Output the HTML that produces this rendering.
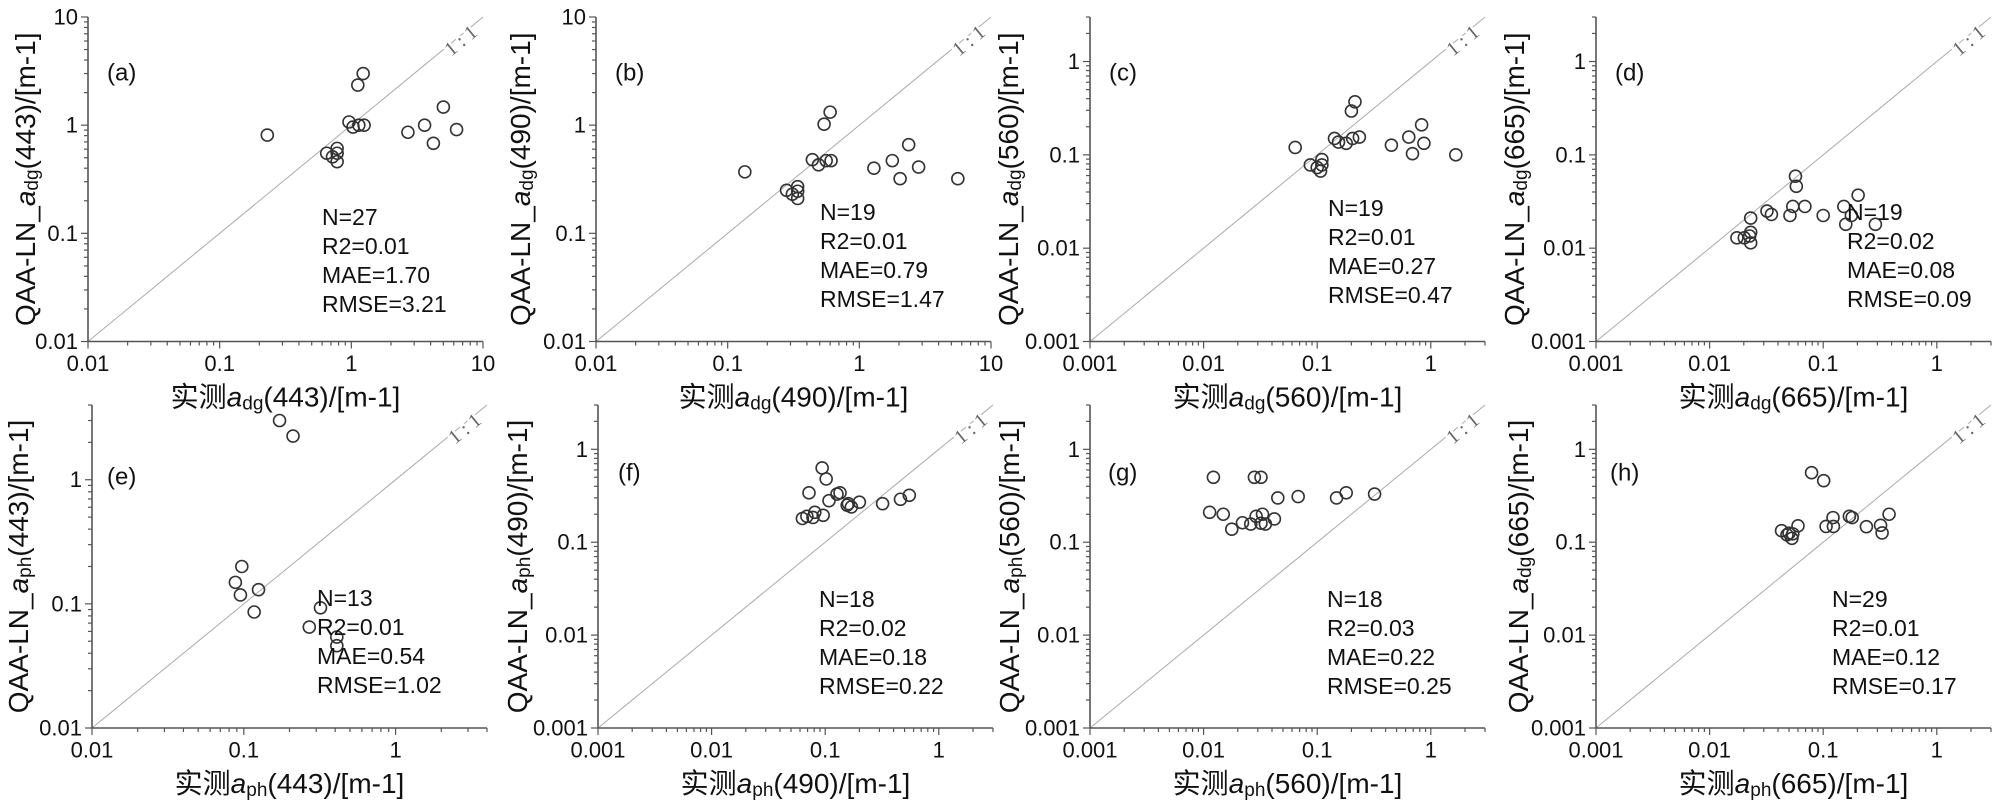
<!DOCTYPE html>
<html><head><meta charset="utf-8"><style>
html,body{margin:0;padding:0;background:#fff;}
svg{display:block;font-family:"Liberation Sans","Noto Sans CJK SC",sans-serif;}
</style></head><body>
<svg id="fig" width="2000" height="806" viewBox="0 0 2000 806" xmlns="http://www.w3.org/2000/svg"></svg>
<script>
// Panel data (measured x, predicted y)
const aX=[0.23,0.65,0.78,0.78,0.72,0.78,0.96,1.03,1.12,1.23,1.14,1.25,2.69,3.6,4.2,5.0,6.3];
const aY=[0.81,0.55,0.61,0.46,0.51,0.55,1.07,0.96,2.35,3.0,1.0,1.0,0.86,1.0,0.68,1.47,0.91];
const bX=[0.135,0.28,0.31,0.34,0.34,0.34,0.44,0.49,0.54,0.6,0.56,0.61,1.29,1.78,2.04,2.37,2.82,5.6];
const bY=[0.37,0.25,0.23,0.27,0.21,0.245,0.48,0.43,1.02,1.32,0.47,0.47,0.40,0.47,0.32,0.66,0.41,0.32];
const cX=[0.064,0.087,0.1,0.11,0.107,0.11,0.142,0.154,0.18,0.205,0.235,0.2,0.215,0.45,0.64,0.83,0.87,0.69,1.66];
const cY=[0.12,0.078,0.073,0.089,0.067,0.078,0.15,0.137,0.133,0.15,0.155,0.295,0.37,0.127,0.155,0.21,0.133,0.103,0.1];
const dX=[0.0174,0.0202,0.023,0.023,0.0225,0.023,0.032,0.035,0.051,0.054,0.057,0.058,0.069,0.1,0.152,0.158,0.177,0.203,0.288];
const dY=[0.0129,0.0129,0.0148,0.0114,0.0135,0.021,0.025,0.023,0.0224,0.028,0.059,0.046,0.028,0.0224,0.028,0.018,0.0224,0.037,0.018];
const eX=[0.172,0.211,0.097,0.088,0.095,0.125,0.117,0.32,0.27,0.41,0.41];
const eY=[3.0,2.25,0.2,0.149,0.118,0.13,0.086,0.093,0.065,0.054,0.046];
const fX=[0.063,0.069,0.078,0.081,0.096,0.072,0.094,0.102,0.108,0.127,0.135,0.156,0.16,0.17,0.2,0.32,0.46,0.55];
const fY=[0.18,0.19,0.185,0.21,0.195,0.34,0.63,0.48,0.28,0.33,0.34,0.25,0.26,0.24,0.27,0.26,0.29,0.32];
const gX=[0.0122,0.028,0.032,0.045,0.068,0.148,0.18,0.32,0.0113,0.0149,0.0177,0.022,0.026,0.029,0.033,0.032,0.035,0.042];
const gY=[0.5,0.5,0.5,0.30,0.31,0.30,0.34,0.33,0.21,0.2,0.138,0.162,0.157,0.19,0.2,0.16,0.157,0.178];
const hX=[0.079,0.101,0.043,0.048,0.053,0.054,0.06,0.05,0.106,0.122,0.123,0.17,0.18,0.24,0.32,0.33,0.38];
const hY=[0.56,0.46,0.133,0.12,0.11,0.123,0.15,0.125,0.148,0.184,0.148,0.19,0.184,0.147,0.152,0.126,0.2];

const panelIds=['a','b','c','d','e','f','g','h'];
const statN=['N=27','N=19','N=19','N=19','N=13','N=18','N=18','N=29'];
const statR2=['R2=0.01','R2=0.01','R2=0.01','R2=0.02','R2=0.01','R2=0.02','R2=0.03','R2=0.01'];
const statMAE=['MAE=1.70','MAE=0.79','MAE=0.27','MAE=0.08','MAE=0.54','MAE=0.18','MAE=0.22','MAE=0.12'];
const statRMSE=['RMSE=3.21','RMSE=1.47','RMSE=0.47','RMSE=0.09','RMSE=1.02','RMSE=0.22','RMSE=0.25','RMSE=0.17'];
const wavelengths=['443','490','560','665','443','490','560','665'];
const ySubs=['dg','dg','dg','dg','ph','ph','ph','dg'];
const xSubs=['dg','dg','dg','dg','ph','ph','ph','ph'];
const tickA=['0.01','0.1','1','10'];
const tickC=['0.001','0.01','0.1','1'];
const tickE=['0.01','0.1','1'];

const NS='http://www.w3.org/2000/svg';
const svg=document.getElementById('fig');
function mk(tag,attrs,parent){const e=document.createElementNS(NS,tag);for(const k in attrs)e.setAttribute(k,attrs[k]);(parent||svg).appendChild(e);return e;}

const layout=[
 {L:88,T:17,B:341.5,W:395,min:0.01,max:10,ticks:tickA,xs:aX,ys:aY,sx:234,sy:217,ytx:-63,lx:19,ly:56},
 {L:596,T:17,B:341.5,W:395,min:0.01,max:10,ticks:tickA,xs:bX,ys:bY,sx:224,sy:212,ytx:-76,lx:19,ly:56},
 {L:1090,T:17,B:341.5,W:395,min:0.001,max:3,ticks:tickC,xs:cX,ys:cY,sx:238,sy:208,ytx:-82,lx:19,ly:56},
 {L:1596,T:17,B:341.5,W:395,min:0.001,max:3,ticks:tickC,xs:dX,ys:dY,sx:251,sy:212,ytx:-82,lx:19,ly:56},
 {L:92,T:405,B:728,W:395,min:0.01,max:4,ticks:tickE,xs:eX,ys:eY,sx:225,sy:598,ytx:-74,lx:15,ly:72},
 {L:598,T:405,B:728,W:395,min:0.001,max:3,ticks:tickC,xs:fX,ys:fY,sx:221,sy:599,ytx:-81,lx:20,ly:68},
 {L:1090,T:405,B:728,W:395,min:0.001,max:3,ticks:tickC,xs:gX,ys:gY,sx:237,sy:599,ytx:-81,lx:18,ly:68},
 {L:1596,T:405,B:728,W:395,min:0.001,max:3,ticks:tickC,xs:hX,ys:hY,sx:236,sy:599,ytx:-78,lx:14,ly:68}
];

layout.forEach((p,i)=>{
 const id=panelIds[i];
 const g=mk('g',{});
 
 
 const lmin=Math.log10(p.min),lmax=Math.log10(p.max);
 const X=v=>p.L+(Math.log10(v)-lmin)/(lmax-lmin)*p.W;
 const Y=v=>p.B-(Math.log10(v)-lmin)/(lmax-lmin)*(p.B-p.T);
 const R=p.L+p.W;
 // 1:1 line
 const ln=mk('line',{x1:X(p.min),y1:Y(p.min),x2:X(p.max),y2:Y(p.max),stroke:'#aaa','stroke-width':1},g);
 
 
 const ang=Math.atan2(Y(p.max)-Y(p.min),X(p.max)-X(p.min))*180/Math.PI;
 const lbx=R-22,lby=p.T+24;
 const lt=mk('text',{x:lbx,y:lby,'font-family':'Liberation Serif,serif','font-size':20,fill:'#666','text-anchor':'middle','dominant-baseline':'central',transform:`rotate(${ang} ${lbx} ${lby})`,stroke:'#fff','stroke-width':5,'paint-order':'stroke'},g);
 lt.textContent='1 : 1';
 
 
 // axes
 const ya=mk('line',{x1:p.L,y1:p.T,x2:p.L,y2:p.B,stroke:'#555','stroke-width':1.6},g);
 
 
 const xa=mk('line',{x1:p.L,y1:p.B,x2:R,y2:p.B,stroke:'#555','stroke-width':1.6},g);
 
 
 for(let d=Math.floor(lmin);d<=Math.ceil(lmax);d++){
  for(let k=1;k<=9;k++){
   const v=k*Math.pow(10,d);
   if(v<p.min*0.999||v>p.max*1.001)continue;
   const len=k===1?7:4;
   mk('line',{x1:p.L-len,y1:Y(v),x2:p.L,y2:Y(v),stroke:'#555','stroke-width':1.2},g);
   mk('line',{x1:X(v),y1:p.B,x2:X(v),y2:p.B+len,stroke:'#555','stroke-width':1.2},g);
  }
 }
 p.ticks.forEach(t=>{
  const v=parseFloat(t);
  const ty=mk('text',{x:p.L-10,y:Y(v),'font-size':22,'text-anchor':'end','dominant-baseline':'central',fill:'#111'},g);
  ty.textContent=t;
  
  
  const tx=mk('text',{x:X(v),y:p.B+22,'font-size':22,'text-anchor':'middle','dominant-baseline':'central',fill:'#111'},g);
  tx.textContent=t;
  
  
 });
 // points
 p.xs.forEach((xv,j)=>{
  const c=mk('circle',{cx:X(xv),cy:Y(p.ys[j]),r:6,fill:'none',stroke:'#333','stroke-width':1.6},g);
  
  
 });
 // panel label
 const pl=mk('text',{x:p.L+p.lx,y:p.T+p.ly,'font-size':24,'dominant-baseline':'central',fill:'#111'},g);
 pl.textContent='('+id+')';
 
 
 // stats
 [statN[i],statR2[i],statMAE[i],statRMSE[i]].forEach((s,k)=>{
  const st=mk('text',{x:p.L+p.sx,y:p.sy+k*29,'font-size':23,'dominant-baseline':'central',fill:'#111'},g);
  st.textContent=s;
  
  
 });
 // x title
 const xt=mk('text',{x:p.L+p.W/2,y:p.B+55,'font-size':28,'text-anchor':'middle','dominant-baseline':'central',fill:'#111'},g);
 
 
 xt.innerHTML=`<tspan>实测</tspan><tspan font-style="italic">a</tspan><tspan font-size="19" dy="7">${xSubs[i]}</tspan><tspan dy="-7">(${wavelengths[i]})/[m-1]</tspan>`;
 // y title
 const cx=p.L+p.ytx,cy=(p.T+p.B)/2;
 const yt=mk('text',{x:cx,y:cy,'font-size':28,'text-anchor':'middle','dominant-baseline':'central',fill:'#111',transform:`rotate(-90 ${cx} ${cy})`},g);
 
 
 yt.innerHTML=`<tspan>QAA-LN_</tspan><tspan font-style="italic">a</tspan><tspan font-size="19" dy="7">${ySubs[i]}</tspan><tspan dy="-7">(${wavelengths[i]})/[m-1]</tspan>`;
});
</script>
</body></html>
